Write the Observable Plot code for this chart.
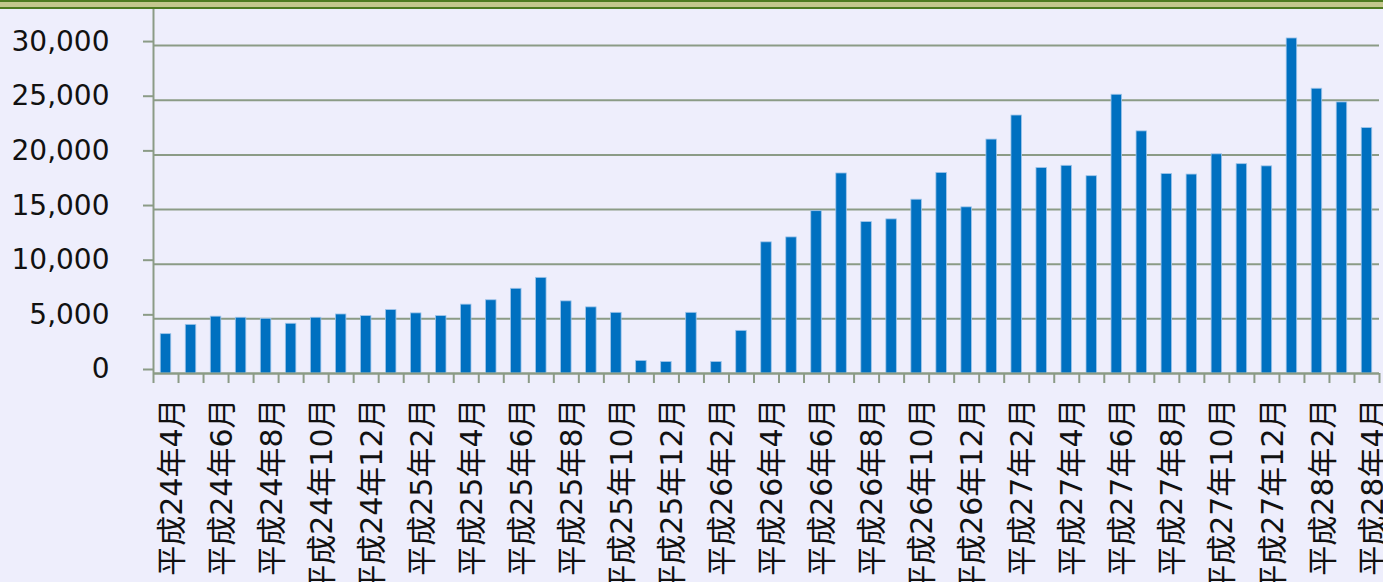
<!DOCTYPE html>
<html>
<head>
<meta charset="utf-8">
<script src="https://cdn.jsdelivr.net/npm/d3@7"></script>
<script src="https://cdn.jsdelivr.net/npm/@observablehq/plot@0.6"></script>
<style>
  html, body { margin: 0; padding: 0; background: #eeeefc; overflow: hidden; }
  #band { height: 9px; box-sizing: border-box; border-top: 2px solid #4f7b22; border-bottom: 2px solid #4f7b22; background: #c4c78d; }
  #chart svg { display: block; }
</style>
</head>
<body>
<div id="band"></div>
<div id="chart"></div>
<script>
const months = [
  "平成24年4月","平成24年5月","平成24年6月","平成24年7月","平成24年8月","平成24年9月","平成24年10月","平成24年11月","平成24年12月",
  "平成25年1月","平成25年2月","平成25年3月","平成25年4月","平成25年5月","平成25年6月","平成25年7月","平成25年8月","平成25年9月","平成25年10月","平成25年11月","平成25年12月",
  "平成26年1月","平成26年2月","平成26年3月","平成26年4月","平成26年5月","平成26年6月","平成26年7月","平成26年8月","平成26年9月","平成26年10月","平成26年11月","平成26年12月",
  "平成27年1月","平成27年2月","平成27年3月","平成27年4月","平成27年5月","平成27年6月","平成27年7月","平成27年8月","平成27年9月","平成27年10月","平成27年11月","平成27年12月",
  "平成28年1月","平成28年2月","平成28年3月","平成28年4月"
];
const values = [
  3600, 4450, 5200, 5100, 5000, 4550, 5100, 5400, 5250,
  5800, 5500, 5250, 6300, 6700, 7750, 8750, 6600, 6050, 5550, 1150, 1050,
  5550, 1050, 3900, 12000, 12450, 14850, 18300, 13850, 14100, 15900, 18350, 15200,
  21400, 23600, 18800, 19000, 18050, 25500, 22150, 18250, 18200, 20050, 19150, 18950,
  30650, 26050, 24800, 22450
];
const labeledMonths = months.filter((m, i) => i % 2 === 0);
const yTicks = [0, 5000, 10000, 15000, 20000, 25000, 30000];

const data = months.map((m, i) => ({i, m, v: values[i]}));
const idxOf = new Map(months.map((m, i) => [m, i]));
const lineColor = "#8b9b86";

const chart = Plot.plot({
  width: 1383,
  height: 573,
  marginTop: 0,
  marginLeft: 153,
  marginRight: 4,
  marginBottom: 209,
  x: {type: "linear", domain: [0, months.length], label: null},
  y: {domain: [0, 33300], label: null},
  style: {background: "transparent", fontFamily: "'DejaVu Sans', 'Noto Sans CJK JP', sans-serif", fontSize: "28px", color: "#111"},
  marks: [
    Plot.gridY(yTicks, {stroke: lineColor, strokeOpacity: 1, strokeWidth: 2}),
    Plot.axisY(yTicks, {tickSize: 10, tickPadding: 34, tickFormat: d3.format(","), stroke: lineColor, strokeWidth: 2, fontSize: 28, dy: -4, fill: "#111", label: null}),
    Plot.rectY(data, {x1: d => d.i + 0.29, x2: d => d.i + 0.71, y: "v", fill: "#0070c0", stroke: "#9fc5ea", strokeWidth: 0.8}),
    Plot.ruleX([0], {stroke: lineColor, strokeWidth: 2}),
    Plot.ruleY([0], {stroke: lineColor, strokeWidth: 2}),
    Plot.axisX(d3.range(months.length + 1), {tickSize: 10, tickFormat: () => "", stroke: lineColor, strokeWidth: 2, label: null}),
    Plot.axisX(labeledMonths.map(m => idxOf.get(m) + 0.5), {tickSize: 0, tickPadding: 25, tickRotate: -90, tickFormat: d => months[Math.floor(d)], fontSize: 30, dx: 6, fill: "#111", label: null})
  ]
});
document.getElementById("chart").appendChild(chart);
</script>
</body>
</html>
